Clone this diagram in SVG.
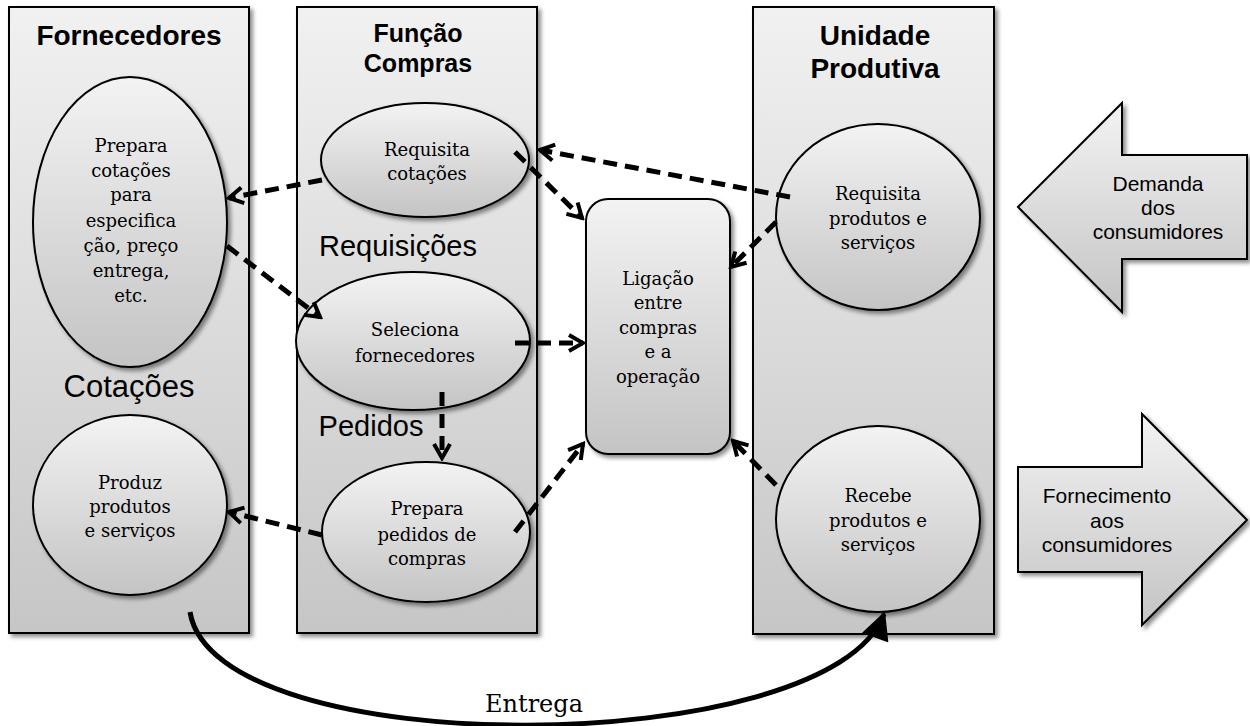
<svg xmlns="http://www.w3.org/2000/svg" width="1250" height="726" viewBox="0 0 1250 726">
<defs>
<linearGradient id="gPanel" x1="0" y1="0" x2="0" y2="1">
<stop offset="0" stop-color="#f1f1f1"/><stop offset="1" stop-color="#c6c6c6"/>
</linearGradient>
<linearGradient id="gNode" x1="0" y1="0" x2="0" y2="1">
<stop offset="0" stop-color="#f3f3f3"/><stop offset="1" stop-color="#c4c4c4"/>
</linearGradient>
<filter id="sh" x="-10%" y="-10%" width="130%" height="130%">
<feDropShadow dx="3" dy="3" stdDeviation="2" flood-color="#000" flood-opacity="0.45"/>
</filter>
<marker id="chev" viewBox="0 0 20 20" refX="17" refY="10" markerWidth="20" markerHeight="20" markerUnits="userSpaceOnUse" orient="auto">
<path d="M3,2 L17,10 L3,18" fill="none" stroke="#000" stroke-width="4"/>
</marker>
<marker id="tri" viewBox="0 0 10 10" refX="9" refY="5" markerWidth="30" markerHeight="28" markerUnits="userSpaceOnUse" orient="auto">
<path d="M0,0 L10,5 L0,10 Z" fill="#000"/>
</marker>
</defs>
<style>
.panel{fill:url(#gPanel);stroke:#000;stroke-width:2;filter:url(#sh)}
.node{fill:url(#gNode);stroke:#000;stroke-width:2;filter:url(#sh)}
.blk{fill:url(#gNode);stroke:#000;stroke-width:2;filter:url(#sh)}
.title{font-family:"Liberation Sans",Arial,sans-serif;font-weight:bold;fill:#000;text-anchor:middle}
.lbl{font-family:"Liberation Sans",Arial,sans-serif;fill:#000;text-anchor:middle}
.nt{font-family:"DejaVu Serif",serif;font-size:18px;fill:#000;text-anchor:middle}
.dash{fill:none;stroke:#000;stroke-width:5;stroke-dasharray:14 8;marker-end:url(#chev)}
</style>
<rect width="1250" height="726" fill="#fff"/>

<g id="panel-fornecedores">
<rect class="panel" x="9" y="7" width="240" height="626"/>
<text class="title" x="129" y="45" font-size="28">Fornecedores</text>
<text class="lbl" x="129" y="397" font-size="31">Cotações</text>
</g>
<g id="panel-funcao-compras">
<rect class="panel" x="297" y="7" width="240" height="626"/>
<text class="title" x="418" y="42" font-size="25">Função</text>
<text class="title" x="418" y="72" font-size="25">Compras</text>
<text class="lbl" x="398" y="256" font-size="29">Requisições</text>
<text class="lbl" x="371" y="436" font-size="29">Pedidos</text>
</g>
<g id="panel-unidade-produtiva">
<rect class="panel" x="753" y="7" width="241" height="627"/>
<text class="title" x="875" y="45" font-size="28">Unidade</text>
<text class="title" x="875" y="78" font-size="28">Produtiva</text>
</g>

<g id="node-prepara-cotacoes">
<ellipse class="node" cx="130" cy="222" rx="97" ry="145"/>
<text class="nt" x="131" y="152">Prepara</text>
<text class="nt" x="131" y="177">cotações</text>
<text class="nt" x="131" y="201">para</text>
<text class="nt" x="131" y="227">especifica</text>
<text class="nt" x="131" y="252">ção, preço</text>
<text class="nt" x="131" y="277">entrega,</text>
<text class="nt" x="131" y="302">etc.</text>
</g>
<g id="node-produz">
<ellipse class="node" cx="130" cy="505" rx="97" ry="90"/>
<text class="nt" x="130" y="489">Produz</text>
<text class="nt" x="130" y="513">produtos</text>
<text class="nt" x="130" y="537">e serviços</text>
</g>
<g id="node-requisita-cotacoes">
<ellipse class="node" cx="425" cy="160" rx="104" ry="57"/>
<text class="nt" x="427" y="156">Requisita</text>
<text class="nt" x="427" y="180">cotações</text>
</g>
<g id="node-seleciona">
<ellipse class="node" cx="413" cy="341" rx="117" ry="69"/>
<text class="nt" x="415" y="336">Seleciona</text>
<text class="nt" x="415" y="362">fornecedores</text>
</g>
<g id="node-prepara-pedidos">
<ellipse class="node" cx="426" cy="532" rx="104" ry="70"/>
<text class="nt" x="427" y="515">Prepara</text>
<text class="nt" x="427" y="541">pedidos de</text>
<text class="nt" x="427" y="565">compras</text>
</g>
<g id="node-ligacao">
<rect class="node" x="586" y="199" width="144" height="255" rx="22"/>
<text class="nt" x="658" y="285">Ligação</text>
<text class="nt" x="658" y="309">entre</text>
<text class="nt" x="658" y="334">compras</text>
<text class="nt" x="658" y="358">e a</text>
<text class="nt" x="658" y="383">operação</text>
</g>
<g id="node-requisita-produtos">
<ellipse class="node" cx="878" cy="217" rx="102" ry="93"/>
<text class="nt" x="878" y="200">Requisita</text>
<text class="nt" x="878" y="225">produtos e</text>
<text class="nt" x="878" y="249">serviços</text>
</g>
<g id="node-recebe">
<ellipse class="node" cx="878" cy="519" rx="102" ry="93"/>
<text class="nt" x="878" y="502">Recebe</text>
<text class="nt" x="878" y="527">produtos e</text>
<text class="nt" x="878" y="551">serviços</text>
</g>
<g id="node-demanda">
<path class="blk" d="M1018,207 L1122,103 L1122,155 L1247,155 L1247,259 L1122,259 L1122,312 Z"/>
<text class="lbl" x="1158" y="191" font-size="21">Demanda</text>
<text class="lbl" x="1158" y="215" font-size="21">dos</text>
<text class="lbl" x="1158" y="239" font-size="21">consumidores</text>
</g>
<g id="node-fornecimento">
<path class="blk" d="M1018,467 L1142,467 L1142,414 L1247,520 L1142,625 L1142,572 L1018,572 Z"/>
<text class="lbl" x="1107" y="503" font-size="21">Fornecimento</text>
<text class="lbl" x="1107" y="528" font-size="21">aos</text>
<text class="lbl" x="1107" y="552" font-size="21">consumidores</text>
</g>

<g id="connectors">
<path class="dash" d="M322,180 L229,198"/>
<path class="dash" d="M227,246 L320,317"/>
<path class="dash" d="M515,152 L582,218"/>
<path class="dash" d="M790,197 L540,150"/>
<path class="dash" d="M776,222 L731,267"/>
<path class="dash" d="M515,343 L583,343"/>
<path class="dash" d="M442,392 L442,458"/>
<path class="dash" d="M515,532 L583,444"/>
<path class="dash" d="M322,535 L229,512"/>
<path class="dash" d="M776,485 L733,441"/>
<path d="M190,612 C215,765 830,760 884,614" fill="none" stroke="#000" stroke-width="5" marker-end="url(#tri)"/>
<text class="nt" x="534" y="712" style="font-size:24px">Entrega</text>
</g>
</svg>
